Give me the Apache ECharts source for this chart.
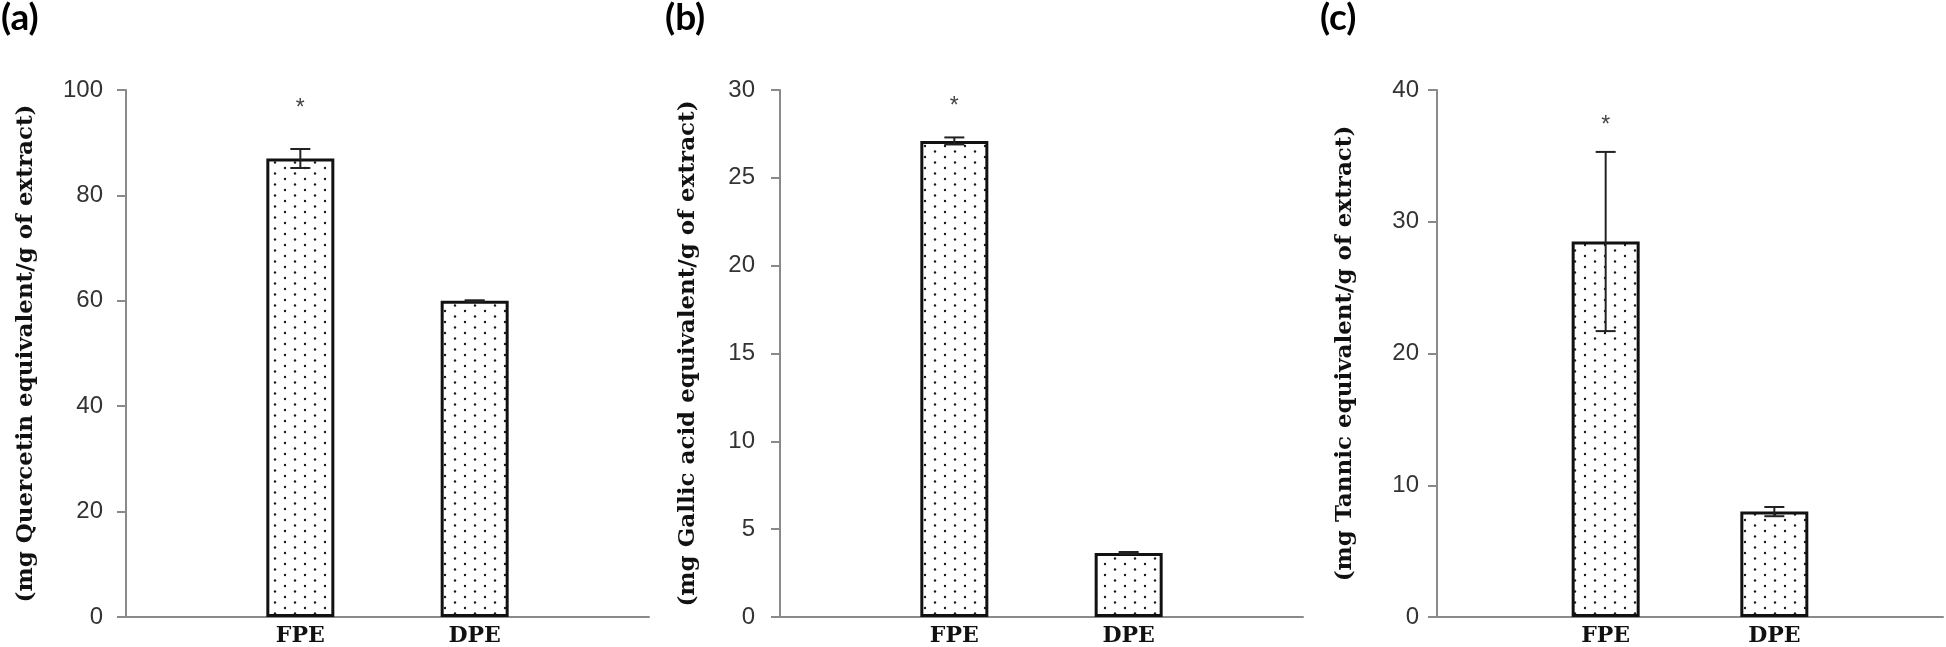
<!DOCTYPE html>
<html><head><meta charset="utf-8">
<script src="https://cdn.jsdelivr.net/npm/echarts@6/dist/echarts.min.js"></script>
<style>html,body{margin:0;padding:0;background:#fff}#c{width:1946px;height:647px}</style>
</head><body><div id="c"></div>
<script>
// ---- data ----
const categories = ['FPE', 'DPE'];
const panelLabels = ['(a)', '(b)', '(c)'];
const yTitles = [
  '(mg Quercetin equivalent/g of extract)',
  '(mg Gallic acid equivalent/g of extract)',
  '(mg Tannic equivalent/g of extract)'
];
const quercetin = [87.0, 60.0];
const quercetinErr = [1.8, 0.1];
const gallic = [27.1, 3.65];
const gallicErr = [0.2, 0.05];
const tannic = [28.5, 8.0];
const tannicErr = [6.8, 0.35];
const significance = ['*', ''];
const starLevels = [97.2, 29.3, 37.6];
const yMax = [100, 30, 40];
const yInterval = [20, 5, 10];

// ---- layout ----
const values = [quercetin, gallic, tannic];
const errors = [quercetinErr, gallicErr, tannicErr];
const grids = [
  {left: 126, width: 523, top: 90, height: 528},
  {left: 780, width: 523, top: 90, height: 528},
  {left: 1437, width: 516, top: 90, height: 528}
];
const labelMargins = [23, 25, 18];
const nameGaps = [88, 80, 80];
const panelLabelX = [1, 665, 1320];

function makeDots() {
  const c = document.createElement('canvas');
  c.width = 20; c.height = 11;
  const g = c.getContext('2d');
  g.fillStyle = '#fff'; g.fillRect(0, 0, 20, 11);
  g.fillStyle = '#1a1a1a';
  g.beginPath(); g.arc(5, 3, 1.2, 0, Math.PI * 2); g.fill();
  g.beginPath(); g.arc(15, 8.5, 1.2, 0, Math.PI * 2); g.fill();
  return c;
}
const dotPattern = {image: makeDots(), repeat: 'repeat'};

function errRender(params, api) {
  const x = api.value(0), lo = api.value(1), hi = api.value(2);
  const top = api.coord([x, hi]), bot = api.coord([x, lo]);
  const hw = 10;
  const st = {stroke: '#222', lineWidth: 2};
  return {type: 'group', children: [
    {type: 'line', shape: {x1: top[0], y1: top[1], x2: bot[0], y2: bot[1]}, style: st},
    {type: 'line', shape: {x1: top[0] - hw, y1: top[1], x2: top[0] + hw, y2: top[1]}, style: st},
    {type: 'line', shape: {x1: bot[0] - hw, y1: bot[1], x2: bot[0] + hw, y2: bot[1]}, style: st}
  ]};
}
function starRender(params, api) {
  const p = api.coord([api.value(0), api.value(1)]);
  return {type: 'text', x: p[0], y: p[1] + 4, style: {
    text: significance[params.dataIndex] || '', fill: '#444',
    font: '23px "Liberation Sans"', textAlign: 'center', textVerticalAlign: 'middle'
  }};
}

const xAxes = [], yAxes = [], series = [], graphics = [];
for (let i = 0; i < 3; i++) {
  xAxes.push({
    type: 'value', gridIndex: i, min: 0, max: 3, interval: 1,
    axisLine: {show: true, lineStyle: {color: '#8a8a8a', width: 2}},
    axisTick: {show: false}, splitLine: {show: false},
    axisLabel: {
      formatter: v => categories[v - 1] || '',
      fontFamily: 'DejaVu Serif', fontWeight: 'bold', fontSize: 22, color: '#111', margin: 8
    }
  });
  yAxes.push({
    type: 'value', gridIndex: i, min: 0, max: yMax[i], interval: yInterval[i],
    name: yTitles[i], nameLocation: 'middle', nameGap: nameGaps[i], nameRotate: 90,
    nameTextStyle: {fontFamily: 'DejaVu Serif', fontWeight: 'bold', fontSize: 23, color: '#111'},
    axisLine: {show: true, lineStyle: {color: '#8a8a8a', width: 2}},
    axisTick: {show: true, length: 9, lineStyle: {color: '#8a8a8a', width: 2}},
    splitLine: {show: false},
    axisLabel: {fontFamily: 'Liberation Sans', fontSize: 24, color: '#333', margin: labelMargins[i]}
  });
  series.push({
    type: 'bar', xAxisIndex: i, yAxisIndex: i, barWidth: 68,
    data: categories.map((c, j) => [j + 1, values[i][j]]),
    itemStyle: {color: dotPattern, borderColor: '#111', borderWidth: 3},
    silent: true
  });
  series.push({
    type: 'custom', xAxisIndex: i, yAxisIndex: i, renderItem: errRender, silent: true,
    data: categories.map((c, j) => [j + 1, values[i][j] - errors[i][j], values[i][j] + errors[i][j]]),
    z: 5
  });
  series.push({
    type: 'custom', xAxisIndex: i, yAxisIndex: i, renderItem: starRender, silent: true,
    data: [[1, starLevels[i]]], z: 5
  });
  graphics.push({type: 'text', left: panelLabelX[i], top: 0,
    style: {text: panelLabels[i], font: 'bold 37px Lato', fill: '#000'}});
}

const chart = echarts.init(document.getElementById('c'), null, {renderer: 'canvas'});
chart.setOption({
  animation: false,
  backgroundColor: '#fff',
  grid: grids,
  xAxis: xAxes,
  yAxis: yAxes,
  series: series,
  graphic: graphics
});
</script></body></html>
